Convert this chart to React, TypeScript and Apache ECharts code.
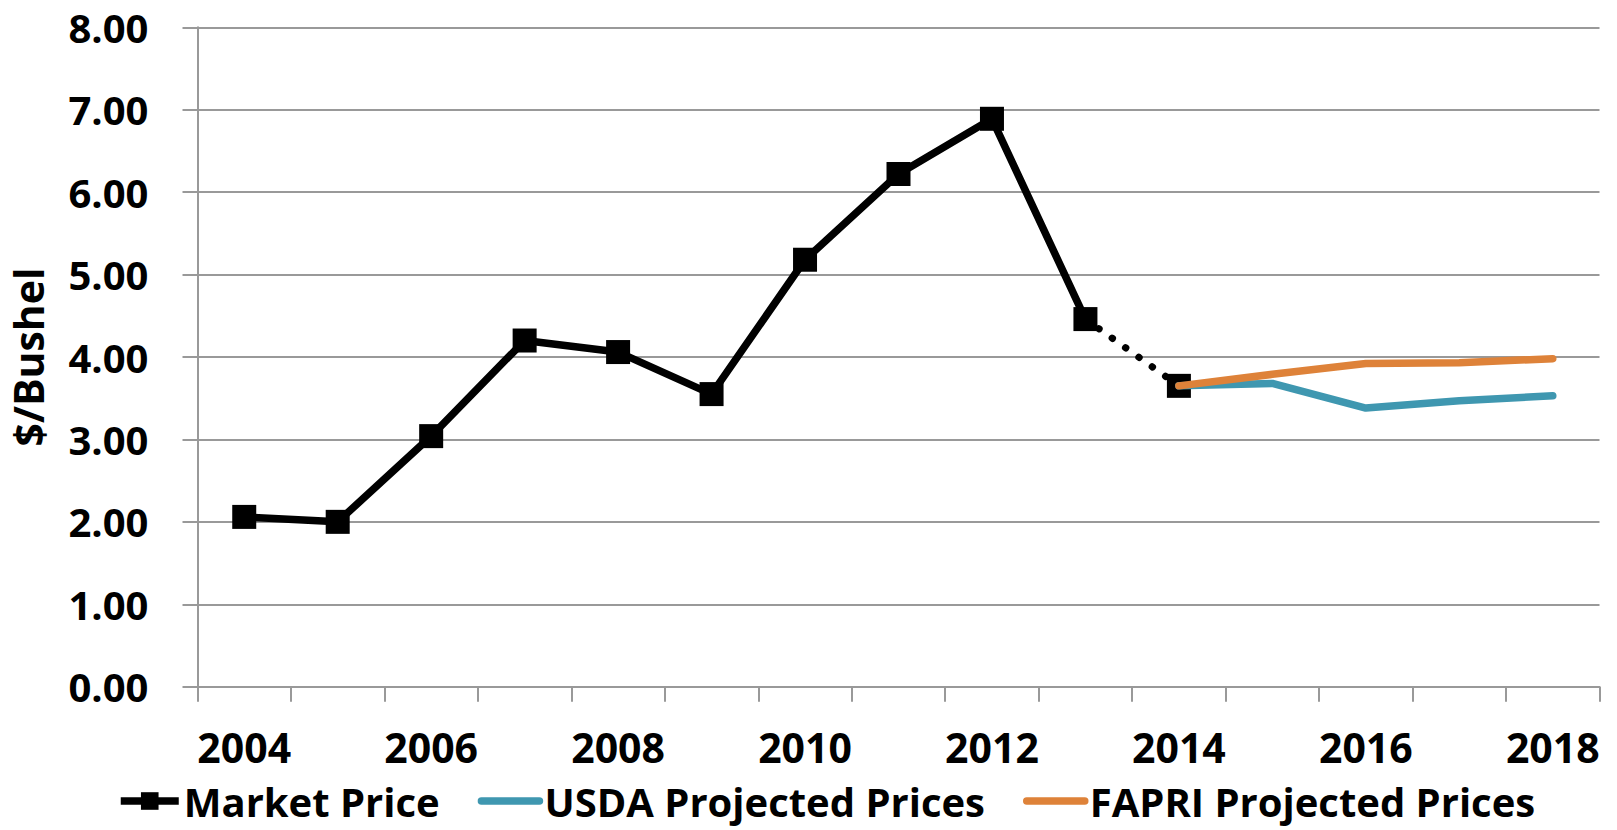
import React, { useEffect, useRef } from "react";
import * as echarts from "echarts";

const years = ["2004", "2005", "2006", "2007", "2008", "2009", "2010", "2011", "2012", "2013", "2014", "2015", "2016", "2017", "2018"];
const marketPrice = [2.06, 2.0, 3.04, 4.2, 4.06, 3.55, 5.18, 6.22, 6.89, 4.46, 3.65];
const usdaProjected = [3.65, 3.68, 3.38, 3.47, 3.53];
const fapriProjected = [3.65, 3.79, 3.92, 3.93, 3.98];
const yTicks = [0, 1, 2, 3, 4, 5, 6, 7, 8];

const FONT = "'Open Sans', 'DejaVu Sans', sans-serif";
const GRID_COLOR = "#999999";
const USDA_COLOR = "#3f97b0";
const FAPRI_COLOR = "#de8239";

export default function App() {
  const ref = useRef<HTMLDivElement>(null);

  useEffect(() => {
    if (!ref.current) return;
    const chart = echarts.init(ref.current, undefined, { renderer: "svg" });

    const n = years.length;
    const lastActual = marketPrice.length - 1; // 2014 index
    const solid: (number | null)[] = years.map((_, i) => (i < lastActual ? marketPrice[i] : null));
    const dotted: any[] = years.map((_, i) => {
      if (i === lastActual - 1) return { value: marketPrice[i], symbol: "none" };
      if (i === lastActual) return { value: marketPrice[i] };
      return null;
    });
    const offset = n - usdaProjected.length;
    const usda: (number | null)[] = years.map((_, i) => (i >= offset ? usdaProjected[i - offset] : null));
    const fapri: (number | null)[] = years.map((_, i) => (i >= offset ? fapriProjected[i - offset] : null));

    chart.setOption({
      animation: false,
      backgroundColor: "#ffffff",
      textStyle: { fontFamily: FONT },
      grid: {
        left: 197.5,
        right: 17.5,
        top: 27.3,
        bottom: 143.3,
        containLabel: false,
        outerBoundsMode: "none",
      },
      legend: {
        data: [
          { name: "Market Price", lineStyle: { width: 7.5 } },
          { name: "USDA Projected Prices", itemStyle: { opacity: 0 }, lineStyle: { width: 7.5, cap: "round" } },
          { name: "FAPRI Projected Prices", itemStyle: { opacity: 0 }, lineStyle: { width: 7.5, cap: "round" } },
        ],
        left: 117,
        top: 781,
        padding: 0,
        itemWidth: 58,
        itemHeight: 22,
        itemGap: 38,
        textStyle: { fontFamily: FONT, fontWeight: "bold", fontSize: 40, color: "#000" },
      },
      xAxis: {
        type: "category",
        data: years,
        boundaryGap: true,
        axisLine: { show: true, lineStyle: { color: GRID_COLOR, width: 2 } },
        axisTick: { show: true, interval: 0, length: 15, lineStyle: { color: GRID_COLOR, width: 2 } },
        axisLabel: {
          interval: 1,
          margin: 40,
          fontFamily: FONT,
          fontWeight: "bold",
          fontSize: 41,
          color: "#000",
        },
        splitLine: { show: false },
      },
      yAxis: {
        type: "value",
        min: yTicks[0],
        max: yTicks[yTicks.length - 1],
        interval: 1,
        name: "$/Bushel",
        nameLocation: "middle",
        nameRotate: 90,
        nameGap: 149,
        nameTextStyle: { fontFamily: FONT, fontWeight: "bold", fontSize: 41, color: "#000" },
        axisLine: { show: true, lineStyle: { color: GRID_COLOR, width: 2 } },
        axisTick: { show: true, length: 15, lineStyle: { color: GRID_COLOR, width: 2 } },
        axisLabel: {
          margin: 49,
          fontFamily: FONT,
          fontWeight: "bold",
          fontSize: 40,
          color: "#000",
          formatter: (v: number) => v.toFixed(2),
        },
        splitLine: { show: true, lineStyle: { color: GRID_COLOR, width: 2 } },
      },
      series: [
        {
          name: "Market Price",
          type: "line",
          data: solid,
          symbol: "rect",
          symbolSize: 24,
          showAllSymbol: true,
          itemStyle: { color: "#000000" },
          lineStyle: { color: "#000000", width: 7.5 },
          z: 3,
        },
        {
          name: "Market Price (dotted)",
          type: "line",
          data: dotted,
          symbol: "rect",
          symbolSize: 24,
          showAllSymbol: true,
          connectNulls: false,
          itemStyle: { color: "#000000" },
          lineStyle: { color: "#000000", width: 7, type: [0.5, 15.9], cap: "round" },
          z: 3,
        },
        {
          name: "USDA Projected Prices",
          type: "line",
          data: usda,
          symbol: "none",
          itemStyle: { color: USDA_COLOR },
          lineStyle: { color: USDA_COLOR, width: 7.5, cap: "round" },
          z: 4,
        },
        {
          name: "FAPRI Projected Prices",
          type: "line",
          data: fapri,
          symbol: "none",
          itemStyle: { color: FAPRI_COLOR },
          lineStyle: { color: FAPRI_COLOR, width: 7.5, cap: "round" },
          z: 5,
        },
      ],
    });

    return () => chart.dispose();
  }, []);

  return (
    <div
      ref={ref}
      style={{ position: "fixed", left: 0, top: 0, width: "1617px", height: "830px", background: "#fff" }}
    />
  );
}
